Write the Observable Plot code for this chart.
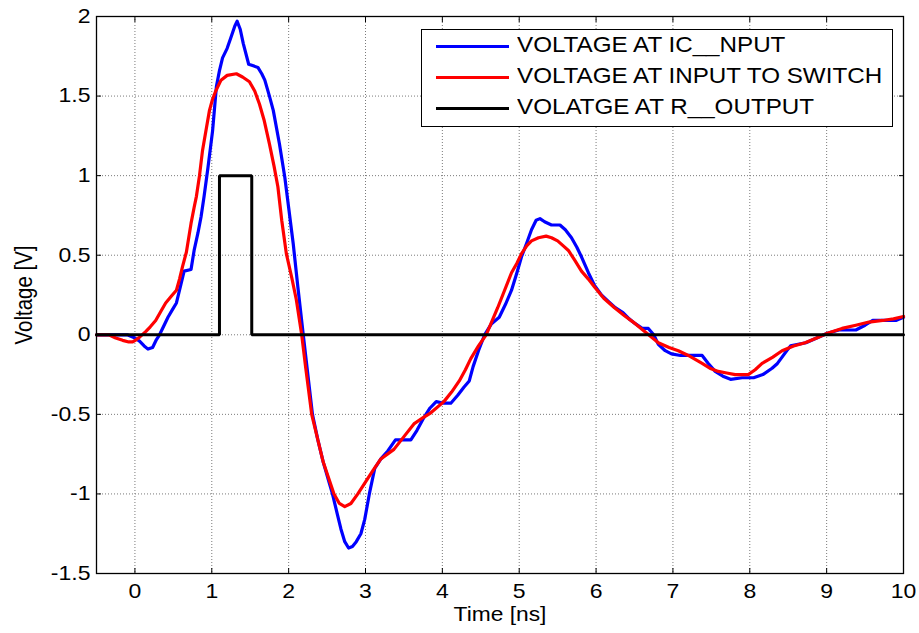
<!DOCTYPE html>
<html>
<head>
<meta charset="utf-8">
<script src="https://cdn.jsdelivr.net/npm/d3@7"></script>
<script src="https://cdn.jsdelivr.net/npm/@observablehq/plot@0.6"></script>
<style>
  html, body { margin: 0; padding: 0; background: #fff; }
  #wrap { position: relative; width: 919px; height: 633px; font-family: "Liberation Sans", Arial, sans-serif; }
  #legend { position: absolute; left: 421px; top: 29px; width: 472px; height: 98px; border: 1px solid #000; background: #fff; box-sizing: border-box; }
  .lg-row { position: absolute; left: 0; height: 31px; }
  .lg-swatch { position: absolute; left: 14px; width: 73px; height: 3px; top: 15px; }
  .lg-text { position: absolute; left: 95px; top: 3px; font-size: 21.5px; line-height: 25px; white-space: nowrap; transform: scaleX(1.125); transform-origin: left center; color: #000; }
</style>
</head>
<body>
<div id="wrap"></div>
<script>
// ---- Data ----
const seriesNames = ["VOLTAGE AT IC__NPUT", "VOLTAGE AT INPUT TO SWITCH", "VOLATGE AT R__OUTPUT"];
const seriesColors = ["#0000ff", "#ff0000", "#000000"];

const xTicks = [0, 1, 2, 3, 4, 5, 6, 7, 8, 9, 10];
const yTicks = [-1.5, -1, -0.5, 0, 0.5, 1, 1.5, 2];

// Blue: voltage at IC input
const blueT = [-0.5, -0.1, 0.0, 0.06, 0.12, 0.17, 0.23, 0.28, 0.32, 0.38, 0.43, 0.49, 0.54, 0.6, 0.64, 0.73, 0.77, 0.82, 0.86, 0.9, 0.95, 1.01, 1.06, 1.1, 1.14, 1.2, 1.25, 1.3, 1.33, 1.37, 1.41, 1.48, 1.54, 1.6, 1.65, 1.69, 1.75, 1.8, 1.88, 1.95, 2.0, 2.06, 2.12, 2.19, 2.25, 2.31, 2.38, 2.45, 2.51, 2.57, 2.63, 2.68, 2.73, 2.78, 2.83, 2.88, 2.94, 2.99, 3.05, 3.12, 3.2, 3.29, 3.39, 3.5, 3.59, 3.67, 3.76, 3.84, 3.92, 4.02, 4.11, 4.2, 4.28, 4.35, 4.4, 4.47, 4.55, 4.64, 4.74, 4.82, 4.9, 4.97, 5.03, 5.1, 5.16, 5.22, 5.27, 5.33, 5.42, 5.53, 5.6, 5.68, 5.75, 5.81, 5.9, 5.98, 6.07, 6.16, 6.25, 6.35, 6.43, 6.51, 6.6, 6.68, 6.75, 6.81, 6.9, 6.98, 7.1, 7.38, 7.46, 7.55, 7.65, 7.75, 7.9, 8.05, 8.17, 8.29, 8.36, 8.42, 8.48, 8.53, 8.73, 8.87, 9.01, 9.16, 9.38, 9.5, 9.6, 9.9, 10];
const blueV = [0, 0, -0.02, -0.04, -0.07, -0.09, -0.08, -0.03, 0.0, 0.06, 0.11, 0.16, 0.2, 0.32, 0.4, 0.41, 0.53, 0.64, 0.74, 0.87, 1.05, 1.28, 1.56, 1.66, 1.74, 1.8, 1.87, 1.94, 1.97, 1.92, 1.83, 1.7, 1.69, 1.68, 1.64, 1.6, 1.5, 1.41, 1.2, 0.99, 0.8, 0.57, 0.3, 0.0, -0.25, -0.5, -0.66, -0.8, -0.9, -1.0, -1.12, -1.22, -1.3, -1.34, -1.33, -1.3, -1.25, -1.16, -1.0, -0.84, -0.78, -0.73, -0.66, -0.66, -0.66, -0.6, -0.52, -0.46, -0.42, -0.43, -0.43, -0.38, -0.33, -0.29, -0.2, -0.1, 0.0, 0.07, 0.11, 0.19, 0.28, 0.39, 0.49, 0.58, 0.66, 0.72, 0.73, 0.71, 0.69, 0.69, 0.66, 0.61, 0.55, 0.49, 0.39, 0.31, 0.25, 0.21, 0.17, 0.14, 0.1, 0.07, 0.04, 0.04, 0.0, -0.06, -0.1, -0.12, -0.13, -0.13, -0.18, -0.23, -0.26, -0.28, -0.27, -0.27, -0.25, -0.21, -0.18, -0.14, -0.1, -0.07, -0.05, -0.02, 0.01, 0.03, 0.03, 0.06, 0.09, 0.09, 0.11];

// Red: voltage at input to switch
const redT = [-0.5, -0.34, -0.25, -0.16, -0.08, -0.03, 0.02, 0.06, 0.14, 0.2, 0.27, 0.34, 0.4, 0.47, 0.54, 0.58, 0.62, 0.67, 0.73, 0.77, 0.8, 0.84, 0.88, 0.93, 0.97, 1.01, 1.05, 1.12, 1.2, 1.32, 1.4, 1.49, 1.56, 1.62, 1.68, 1.75, 1.81, 1.86, 1.91, 1.97, 2.04, 2.1, 2.17, 2.22, 2.3, 2.38, 2.45, 2.52, 2.59, 2.66, 2.73, 2.81, 2.9, 2.98, 3.1, 3.2, 3.37, 3.5, 3.63, 3.75, 3.85, 4.02, 4.12, 4.22, 4.3, 4.37, 4.47, 4.57, 4.65, 4.72, 4.81, 4.9, 4.97, 5.03, 5.1, 5.16, 5.25, 5.35, 5.42, 5.5, 5.57, 5.64, 5.72, 5.81, 5.9, 5.98, 6.1, 6.24, 6.37, 6.51, 6.66, 6.81, 6.95, 7.07, 7.2, 7.38, 7.48, 7.59, 7.7, 7.81, 7.98, 8.07, 8.16, 8.3, 8.42, 8.57, 8.72, 8.87, 9.01, 9.2, 9.38, 9.55, 9.73, 9.87, 10];
const redV = [0, 0, -0.02, -0.035, -0.045, -0.045, -0.03, -0.015, 0.02, 0.05, 0.09, 0.15, 0.2, 0.24, 0.28, 0.35, 0.43, 0.52, 0.7, 0.8, 0.87, 1.0, 1.16, 1.3, 1.41, 1.48, 1.53, 1.6, 1.63, 1.64, 1.62, 1.59, 1.53, 1.45, 1.35, 1.2, 1.06, 0.93, 0.72, 0.51, 0.36, 0.22, 0.0, -0.2, -0.5, -0.66, -0.8, -0.9, -1.0, -1.06, -1.08, -1.06, -1.0, -0.94, -0.85, -0.78, -0.72, -0.64, -0.56, -0.52, -0.49, -0.42, -0.36, -0.29, -0.22, -0.15, -0.07, 0.0, 0.09, 0.17, 0.28, 0.39, 0.45, 0.51, 0.56, 0.59, 0.61, 0.62, 0.61, 0.59, 0.56, 0.53, 0.47, 0.4, 0.35, 0.3, 0.23, 0.17, 0.12, 0.07, 0.01, -0.05, -0.08, -0.1, -0.13, -0.18, -0.21, -0.23, -0.24, -0.25, -0.25, -0.22, -0.18, -0.14, -0.1, -0.07, -0.05, -0.02, 0.01, 0.04, 0.06, 0.08, 0.09, 0.1, 0.115];

// Black: R output pulse
const blackT = [-0.5, 1.1, 1.1, 1.52, 1.52, 10];
const blackV = [0, 0, 1, 1, 0, 0];

const xLabel = "Time [ns]";
const yLabel = "Voltage [V]";

// ---- Build tables ----
const toRows = (T, V) => T.map((t, i) => ({t, v: V[i]}));
const blue = toRows(blueT, blueV);
const red = toRows(redT, redV);
const black = toRows(blackT, blackV);

const gridStyle = {stroke: "#7a7a7a", strokeOpacity: 1, strokeWidth: 1, strokeDasharray: "1,2"};

const chart = Plot.plot({
  width: 919,
  height: 633,
  marginLeft: 96,
  marginRight: 16,
  marginTop: 16,
  marginBottom: 60,
  style: {fontFamily: "'Liberation Sans', Arial, sans-serif", fontSize: "20px", background: "#fff", color: "#000"},
  x: {domain: [-0.5, 10]},
  y: {domain: [-1.5, 2]},
  marks: [
    Plot.gridX(xTicks, gridStyle),
    Plot.gridY(yTicks, gridStyle),
    Plot.line(blue, {x: "t", y: "v", stroke: seriesColors[0], strokeWidth: 3.2, strokeLinejoin: "round"}),
    Plot.line(red, {x: "t", y: "v", stroke: seriesColors[1], strokeWidth: 3.2, strokeLinejoin: "round"}),
    Plot.line(black, {x: "t", y: "v", stroke: seriesColors[2], strokeWidth: 3, strokeLinejoin: "miter"}),
    Plot.frame({stroke: "#000", strokeWidth: 1.3}),
    Plot.axisX(xTicks, {anchor: "bottom", tickSize: -5, tickPadding: 15, tickFormat: d => String(d), label: null, fontSize: 20}),
    Plot.axisX(xTicks, {anchor: "top", tickSize: -5, tickFormat: () => "", label: null}),
    Plot.axisY(yTicks, {anchor: "left", tickSize: -5, tickPadding: 11, tickFormat: d => String(d), label: null, fontSize: 20}),
    Plot.axisY(yTicks, {anchor: "right", tickSize: -5, tickFormat: () => "", label: null}),
    Plot.text([xLabel], {frameAnchor: "bottom", dy: 41, text: d => d, fontSize: 20, lineAnchor: "middle", textAnchor: "middle"}),
    Plot.text([yLabel], {frameAnchor: "left", dx: -72, rotate: -90, text: d => d, fontSize: 20.5, lineAnchor: "middle", textAnchor: "middle"})
  ]
});

// Horizontal widening of text to match the reference rendering
chart.querySelectorAll('g[aria-label="x-axis tick label"] text, g[aria-label="y-axis tick label"] text').forEach(t => {
  t.setAttribute("transform", (t.getAttribute("transform") || "") + " scale(1.15,1)");
});
chart.querySelectorAll("text").forEach(t => {
  if (t.textContent === xLabel) t.setAttribute("transform", (t.getAttribute("transform") || "") + " scale(1.14,1)");
  if (t.textContent === yLabel) t.setAttribute("transform", (t.getAttribute("transform") || "") + " scale(1,1.13)");
});

const wrap = document.getElementById("wrap");
wrap.appendChild(chart);

// Legend (inside the axes, top right)
const legend = document.createElement("div");
legend.id = "legend";
seriesNames.forEach((name, i) => {
  const row = document.createElement("div");
  row.className = "lg-row";
  row.style.top = (i * 31) + "px";
  const sw = document.createElement("div");
  sw.className = "lg-swatch";
  sw.style.background = seriesColors[i];
  const tx = document.createElement("div");
  tx.className = "lg-text";
  tx.textContent = name;
  row.appendChild(sw);
  row.appendChild(tx);
  legend.appendChild(row);
});
wrap.appendChild(legend);
</script>
</body>
</html>
